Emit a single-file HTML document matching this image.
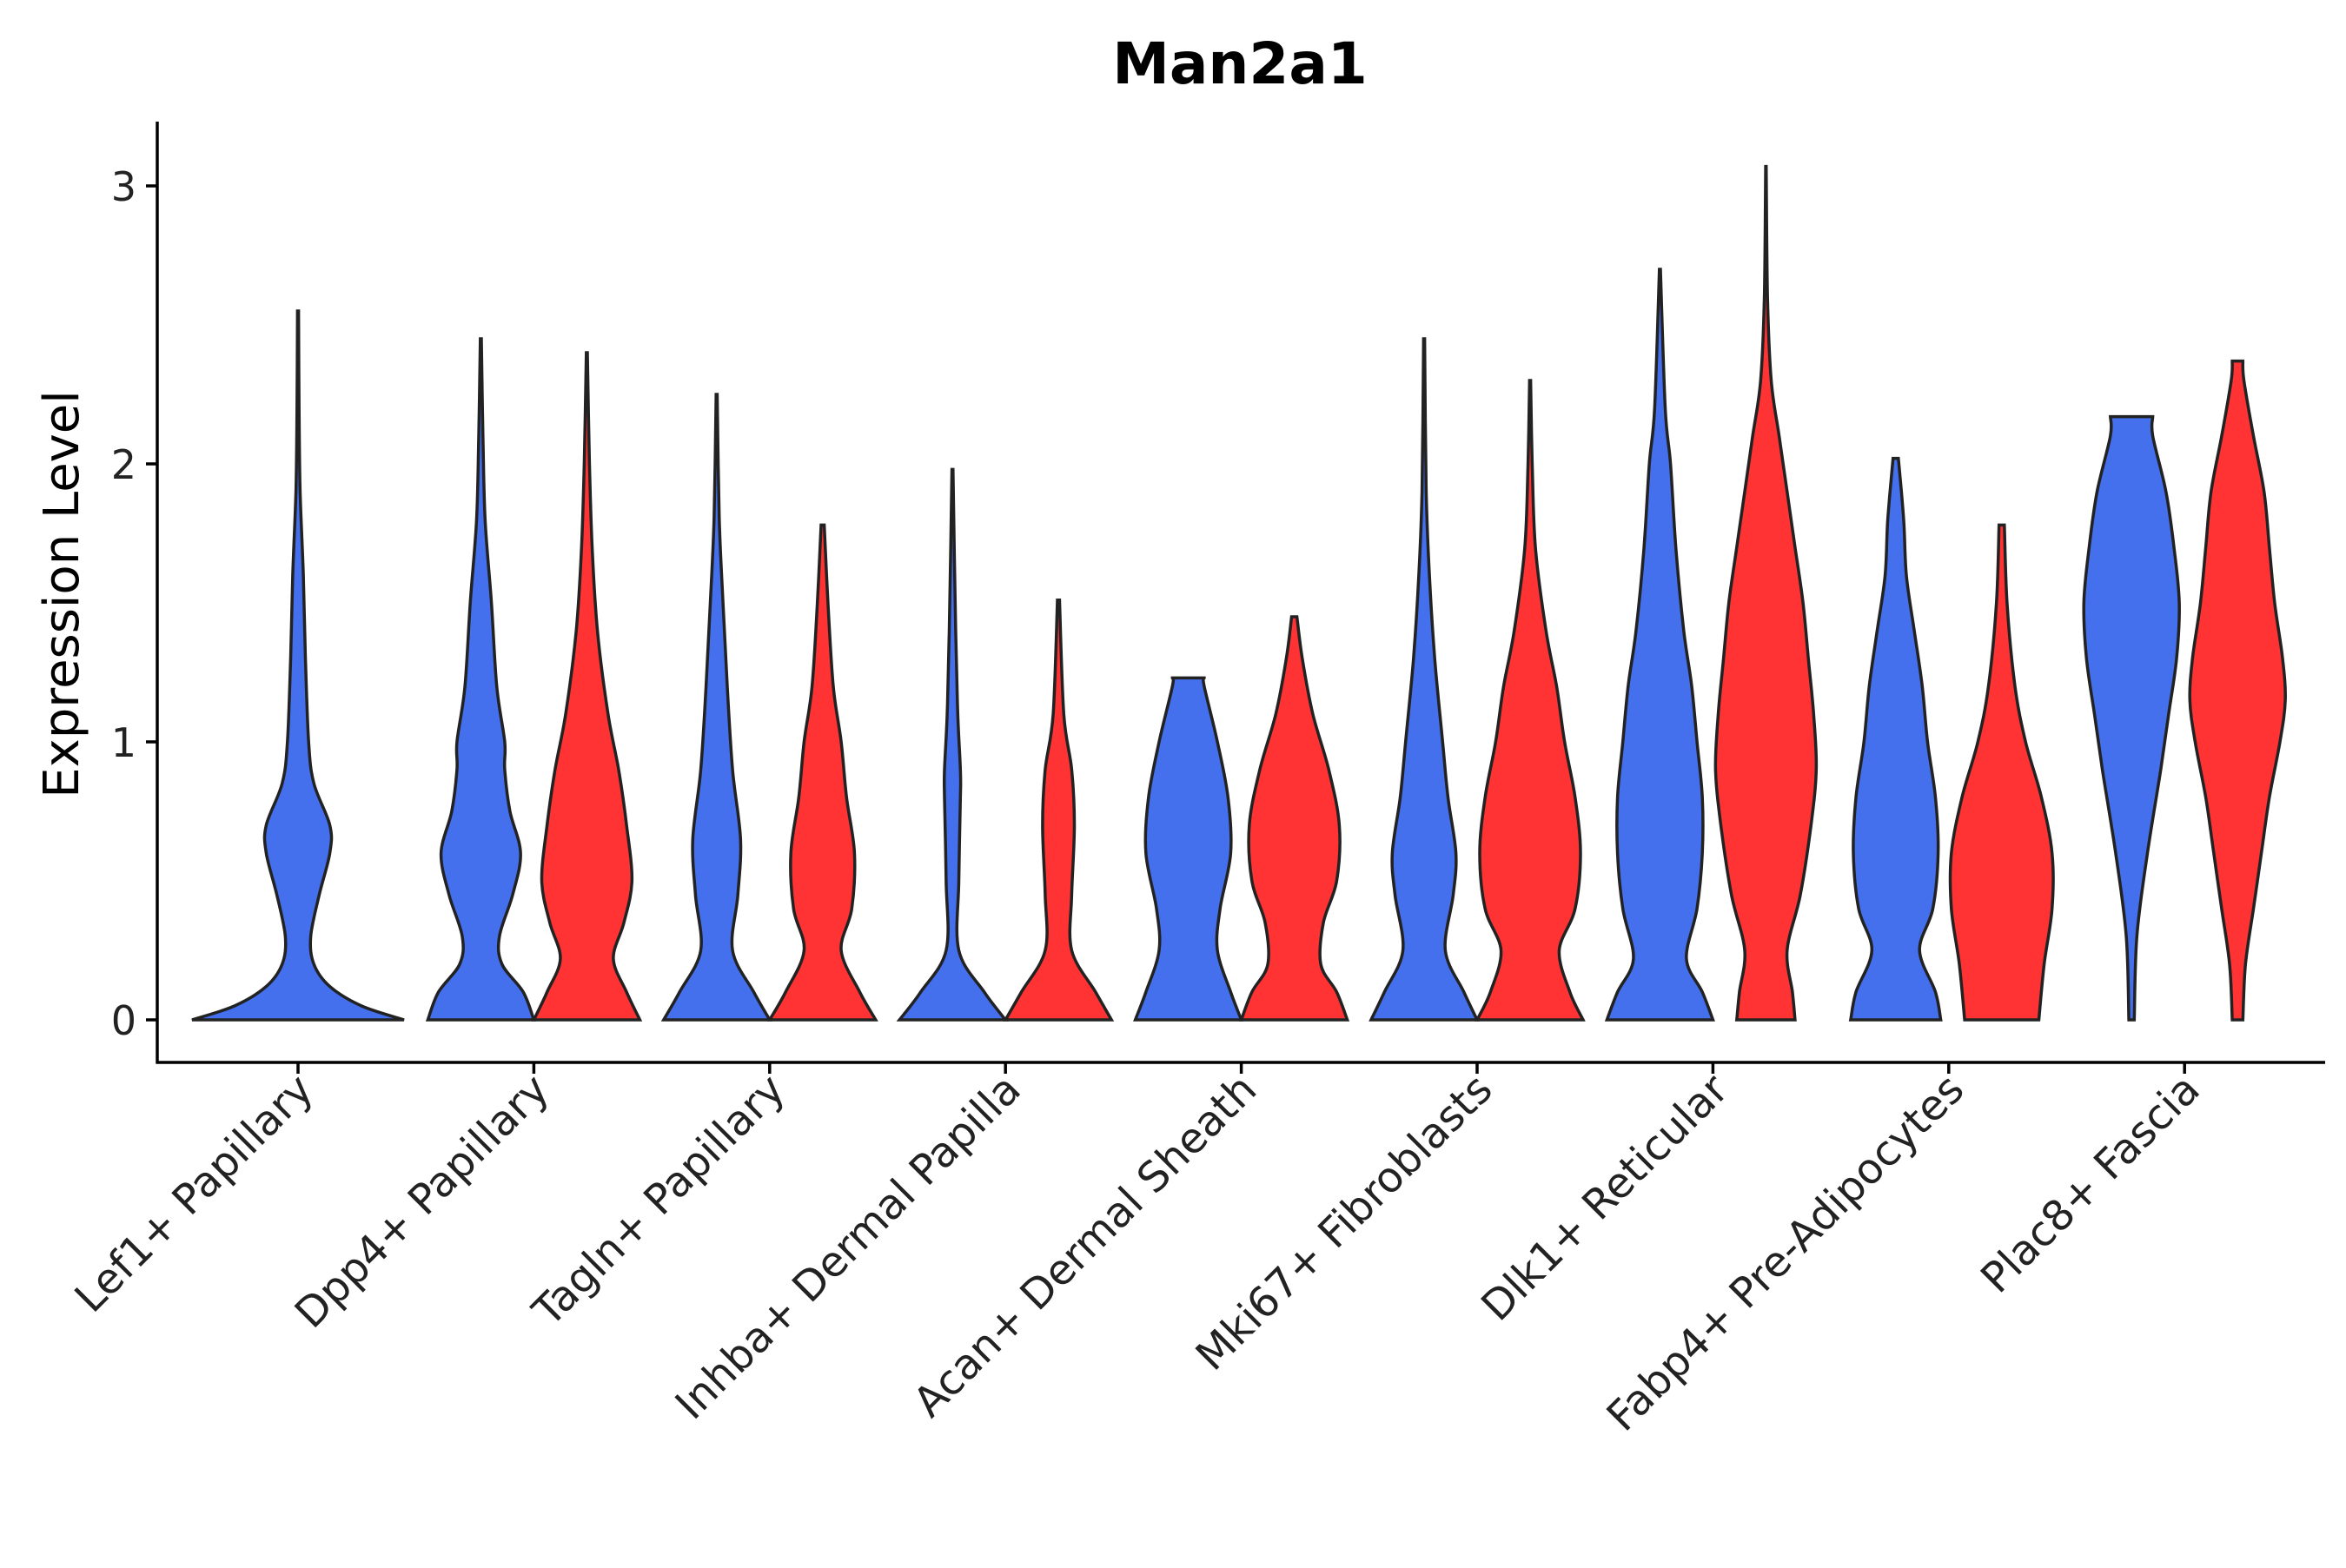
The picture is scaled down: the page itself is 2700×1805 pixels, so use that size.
<!DOCTYPE html>
<html><head><meta charset="utf-8"><style>
html,body{margin:0;padding:0;background:#fff;}
svg text{font-family:"DejaVu Sans","Liberation Sans",sans-serif;}
</style></head><body>
<svg id="chart" width="2700" height="1800" viewBox="0 0 2700 1800" xmlns="http://www.w3.org/2000/svg">
<rect width="2700" height="1800" fill="#fff"/>
<text x="1427" y="96" font-size="66" font-weight="bold" text-anchor="middle">Man2a1</text>
<g id="violins"></g>
<g id="axes"></g>
</svg>
<script>
const categories=["Lef1+ Papillary","Dpp4+ Papillary","Tagln+ Papillary","Inhba+ Dermal Papilla","Acan+ Dermal Sheath","Mki67+ Fibroblasts","Dlk1+ Reticular","Fabp4+ Pre-Adipocytes","Plac8+ Fascia"];
const yTicks=[0,1,2,3];
const groupColors={A:"#4470EE",B:"#FF3333"};
// violins: category index, group, profile of [expression, relative half-width]
const violinCat=[0,1,1,2,2,3,3,4,4,5,5,6,6,7,7,8,8];
const violinGroup=["A","A","B","A","B","A","B","A","B","A","B","A","B","A","B","A","B"];
const violinProfiles=[
[[0,1],[0.05,0.6],[0.12,0.3],[0.2,0.15],[0.3,0.12],[0.45,0.2],[0.6,0.3],[0.7,0.3],[0.85,0.15],[1.0,0.1],[1.3,0.07],[1.6,0.05],[1.9,0.02],[2.2,0.01],[2.55,0.005]],
[[0,1],[0.1,0.8],[0.2,0.4],[0.3,0.35],[0.45,0.6],[0.6,0.75],[0.75,0.55],[0.9,0.45],[1.0,0.45],[1.2,0.3],[1.5,0.2],[1.8,0.08],[2.1,0.04],[2.45,0.01]],
[[0,1],[0.1,0.75],[0.22,0.5],[0.35,0.7],[0.5,0.85],[0.7,0.75],[0.9,0.6],[1.1,0.4],[1.4,0.2],[1.7,0.1],[2.0,0.05],[2.4,0.01]],
[[0,1],[0.1,0.7],[0.25,0.3],[0.45,0.4],[0.65,0.45],[0.9,0.3],[1.2,0.2],[1.5,0.12],[1.8,0.05],[2.25,0.01]],
[[0,1],[0.1,0.7],[0.25,0.35],[0.4,0.55],[0.6,0.6],[0.8,0.45],[1.0,0.35],[1.2,0.2],[1.5,0.1],[1.78,0.03]],
[[0,1],[0.1,0.6],[0.25,0.12],[0.5,0.12],[0.8,0.15],[0.9,0.15],[1.1,0.1],[1.4,0.06],[1.98,0.01]],
[[0,1],[0.1,0.7],[0.25,0.25],[0.45,0.25],[0.7,0.3],[0.9,0.25],[1.1,0.1],[1.51,0.02]],
[[0,1],[0.1,0.8],[0.25,0.55],[0.4,0.6],[0.6,0.8],[0.8,0.75],[1.0,0.55],[1.2,0.3],[1.23,0.3]],
[[0,1],[0.1,0.8],[0.2,0.5],[0.35,0.55],[0.5,0.8],[0.7,0.85],[0.9,0.65],[1.1,0.35],[1.3,0.15],[1.45,0.05]],
[[0,1],[0.1,0.75],[0.25,0.4],[0.45,0.55],[0.6,0.6],[0.8,0.45],[1.0,0.35],[1.3,0.2],[1.6,0.1],[1.9,0.04],[2.45,0.01]],
[[0,1],[0.1,0.75],[0.25,0.55],[0.4,0.85],[0.6,0.95],[0.8,0.85],[1.0,0.65],[1.2,0.5],[1.4,0.3],[1.7,0.1],[2.0,0.04],[2.3,0.01]],
[[0,1],[0.1,0.8],[0.22,0.5],[0.4,0.7],[0.6,0.8],[0.8,0.8],[1.0,0.7],[1.2,0.6],[1.4,0.45],[1.7,0.3],[2.0,0.2],[2.2,0.1],[2.7,0.01]],
[[0,0.55],[0.1,0.5],[0.25,0.4],[0.45,0.65],[0.7,0.85],[0.9,0.95],[1.1,0.9],[1.3,0.8],[1.5,0.7],[1.7,0.55],[1.9,0.4],[2.1,0.25],[2.3,0.1],[2.6,0.03],[3.07,0.005]],
[[0,0.85],[0.1,0.75],[0.25,0.45],[0.4,0.7],[0.6,0.8],[0.8,0.75],[1.0,0.6],[1.2,0.5],[1.4,0.35],[1.6,0.2],[1.8,0.15],[2.02,0.05]],
[[0,0.7],[0.2,0.8],[0.4,0.95],[0.6,0.95],[0.8,0.75],[1.0,0.45],[1.2,0.25],[1.5,0.1],[1.78,0.05]],
[[0,0.05],[0.3,0.1],[0.6,0.3],[0.9,0.55],[1.1,0.7],[1.3,0.85],[1.5,0.9],[1.7,0.8],[1.9,0.65],[2.1,0.4],[2.17,0.4]],
[[0,0.1],[0.2,0.15],[0.4,0.3],[0.6,0.45],[0.8,0.6],[1.0,0.8],[1.15,0.9],[1.3,0.85],[1.5,0.7],[1.7,0.6],[1.9,0.5],[2.1,0.3],[2.3,0.12],[2.37,0.1]]
];
const NS="http://www.w3.org/2000/svg";
const axL=181, axB=1223, y0=1174, yUnit=320;
const xScale=i=>343+271.4*i;
const yScale=v=>y0-v*yUnit;
const halfW=61;
const vg=document.getElementById('violins');
const ax=document.getElementById('axes');
function smooth(pts){
  let d="M"+pts[0][0].toFixed(1)+","+pts[0][1].toFixed(1);
  for(let i=0;i<pts.length-1;i++){
    const p0=pts[Math.max(0,i-1)],p1=pts[i],p2=pts[i+1],p3=pts[Math.min(pts.length-1,i+2)];
    const c1=[p1[0]+(p2[0]-p0[0])/6,p1[1]+(p2[1]-p0[1])/6];
    const c2=[p2[0]-(p3[0]-p1[0])/6,p2[1]-(p3[1]-p1[1])/6];
    d+=`C${c1[0].toFixed(1)},${c1[1].toFixed(1)} ${c2[0].toFixed(1)},${c2[1].toFixed(1)} ${p2[0].toFixed(1)},${p2[1].toFixed(1)}`;
  }
  return d;
}
violinProfiles.forEach((prof,k)=>{
  const ci=violinCat[k];
  const single=violinCat.filter(c=>c===ci).length===1;
  const cx=single?xScale(ci):xScale(ci)+(violinGroup[k]==="A"?-61:61);
  const w=single?halfW*2:halfW;
  const right=prof.map(p=>[cx+p[1]*w,yScale(p[0])]);
  const left=prof.slice().reverse().map(p=>[cx-p[1]*w,yScale(p[0])]);
  let d=smooth(right);
  d+="L"+left[0][0].toFixed(1)+","+left[0][1].toFixed(1);
  d+=smooth(left).replace(/^M[^C]*/,"");
  d+="Z";
  const path=document.createElementNS(NS,'path');
  path.setAttribute('d',d);
  path.setAttribute('fill',groupColors[violinGroup[k]]);
  path.setAttribute('stroke','#222');
  path.setAttribute('stroke-width','3.5');
  
  
  vg.appendChild(path);
});
function line(x1,y1,x2,y2,name){
  const l=document.createElementNS(NS,'line');
  l.setAttribute('x1',x1);l.setAttribute('y1',y1);l.setAttribute('x2',x2);l.setAttribute('y2',y2);
  l.setAttribute('stroke','#000');l.setAttribute('stroke-width','3.5');
  
  
  ax.appendChild(l);
}
line(axL,140,axL,axB+1.5,'y-axis-line');
line(axL-1.5,axB,2676,axB,'x-axis-line');
yTicks.forEach(v=>{
  line(axL-13,yScale(v),axL,yScale(v),'y-tick');
  const t=document.createElementNS(NS,'text');
  t.setAttribute('x',axL-24);t.setAttribute('y',yScale(v)+17);
  t.setAttribute('text-anchor','end');t.setAttribute('font-size','46');t.setAttribute('fill','#222');
  t.textContent=v;
  
  
  ax.appendChild(t);
});
categories.forEach((c,i)=>{
  const x=xScale(i);
  line(x,axB,x,axB+13,'x-tick');
  const t=document.createElementNS(NS,'text');
  t.setAttribute('transform',`translate(${x+20},${axB+34}) rotate(-45)`);
  t.setAttribute('text-anchor','end');t.setAttribute('font-size','48');t.setAttribute('fill','#222');
  t.textContent=c;
  
  
  ax.appendChild(t);
});
const yt=document.createElementNS(NS,'text');
yt.setAttribute('transform','translate(90,684) rotate(-90)');
yt.setAttribute('text-anchor','middle');yt.setAttribute('font-size','56');
yt.textContent='Expression Level';


ax.appendChild(yt);
</script>
</body></html>
